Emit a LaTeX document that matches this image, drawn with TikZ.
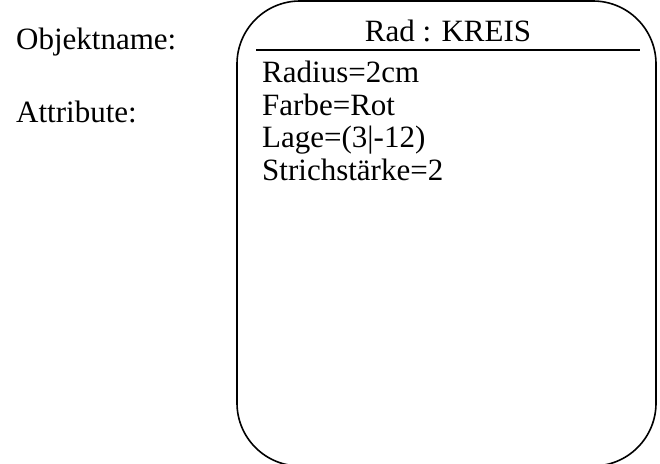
\documentclass[tikz,border=0pt]{standalone}
\usepackage{fontspec}
\setmainfont{Liberation Serif}
\begin{document}
\begin{tikzpicture}[x=1pt,y=-1pt,
  txt/.style={anchor=base west, inner sep=0pt, font=\fontsize{31}{36}\selectfont},
  ttl/.style={anchor=base, inner sep=0pt, font=\fontsize{31}{36}\selectfont},
  boxline/.style={line width=1.6pt},
  sepline/.style={line width=2pt}]
\useasboundingbox (0,0) rectangle (660,463);
\clip (0,0) rectangle (660,463);
\draw[boxline, rounded corners=63pt] (237,1) rectangle (656,466);
\node[txt] (objname) at (16,49) {Objektname:};
\node[txt] (attr) at (16,122) {Attribute:};
\node[ttl] (title) at (448,41) {Rad : KREIS};
\coordinate (hl) at (256,50);
\coordinate (hr) at (640,50);
\draw[sepline] (hl) -- (hr);
\node[txt] (a1) at (262,82) {Radius=2cm};
\node[txt] (a2) at (262,115) {Farbe=Rot};
\node[txt] (a3) at (262,147.5) {Lage=(3|-12)};
\node[txt] (a4) at (262,180) {Strichstärke=2};
\end{tikzpicture}
\end{document}
